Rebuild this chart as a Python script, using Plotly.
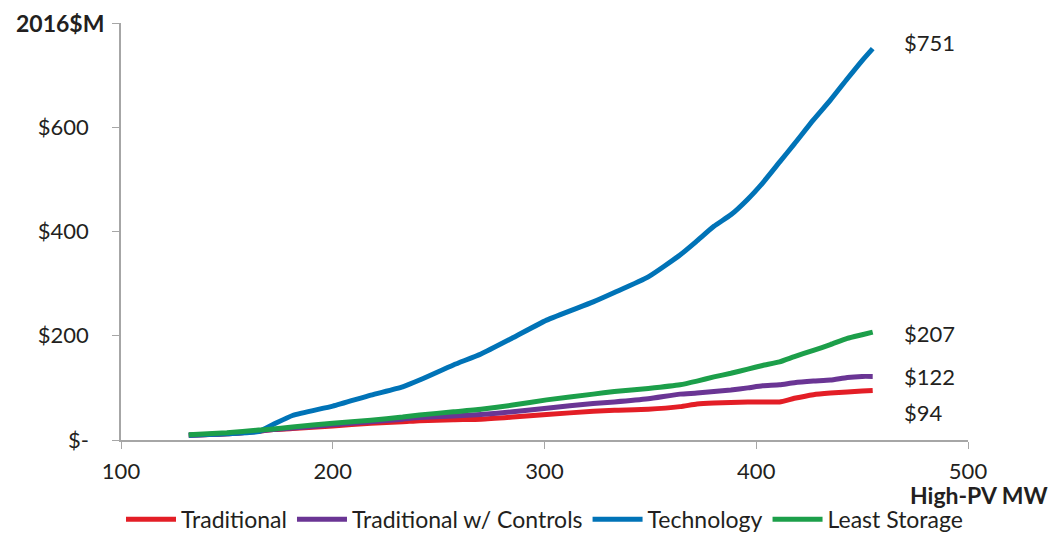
import plotly.graph_objects as go

mw = [132, 150, 165, 172, 181, 200, 218, 233, 241, 257, 270, 285, 301, 323, 333,
      349, 364, 372, 380, 388, 396, 403, 411, 418, 427, 435, 443, 450, 455]

traditional = [9, 12, 17, 20, 22, 27, 32, 35, 37, 39, 40, 44, 49, 55, 57,
               59, 64, 69, 71, 72, 73, 73, 73, 80, 87, 90, 92, 94, 95]
controls = [9, 12, 17, 20, 23, 29, 35, 40, 43, 46, 49, 54, 61, 70, 73,
            79, 88, 90, 93, 96, 100, 104, 106, 110, 113, 115, 120, 122, 122]
technology = [9, 12, 16, 30, 47, 65, 86, 102, 115, 144, 165, 196, 230, 265, 283,
              313, 355, 382, 410, 432, 462, 493, 533, 568, 614, 652, 693, 728, 751]
least_storage = [10, 14, 19, 21, 25, 32, 38, 44, 48, 54, 59, 67, 77, 88, 93,
                 99, 106, 113, 121, 128, 136, 143, 150, 160, 172, 183, 195, 202, 207]

series = [
    ("Traditional", traditional, "#e31e26"),
    ("Traditional w/ Controls", controls, "#6a3594"),
    ("Technology", technology, "#0073b7"),
    ("Least Storage", least_storage, "#1c9f4a"),
]

end_labels = ["$751", "$207", "$122", "$94"]
end_label_y = [763, 205, 121, 52]

y_ticks = [0, 200, 400, 600, 800]
y_text = ["$-", "$200", "$400", "$600", ""]
x_ticks = [100, 200, 300, 400, 500]

font = "Lato"
grey = "#a6a6a6"

fig = go.Figure()
for name, vals, color in series:
    fig.add_trace(go.Scatter(
        x=mw, y=vals, name=name, mode="lines",
        line=dict(color=color, width=5, shape="spline", smoothing=0.5),
    ))

for txt, yv in zip(end_labels, end_label_y):
    fig.add_annotation(x=469, y=yv, text=txt, showarrow=False, xanchor="left",
                       yanchor="middle", font=dict(size=22, color="#231f20"))

fig.add_annotation(xref="paper", yref="paper", x=-0.018, y=1.0, text="<b>2016$M</b>",
                   showarrow=False, xanchor="right", yanchor="middle",
                   font=dict(size=23, color="#231f20"))
fig.add_annotation(xref="paper", yref="paper", x=1.097, y=-0.132, text="<b>High-PV MW</b>",
                   showarrow=False, xanchor="right", yanchor="middle",
                   font=dict(size=23, color="#231f20"))

fig.update_xaxes(range=[100, 500], tickvals=x_ticks, ticks="outside", ticklen=7,
                 tickcolor=grey, showline=True, linecolor=grey, linewidth=1.5,
                 showgrid=False, zeroline=False, tickfont=dict(size=22),
                 ticklabelstandoff=4, automargin=False)
fig.update_yaxes(range=[0, 800], tickvals=y_ticks, ticktext=y_text, ticks="outside",
                 ticklen=7, tickcolor=grey, showline=True, linecolor=grey, linewidth=1.5,
                 showgrid=False, zeroline=False, tickfont=dict(size=22),
                 ticklabelstandoff=19, automargin=False)

# page body adds 8px, so the figure is sized to the visible window
fig.update_layout(
    width=1051, height=526,
    margin=dict(l=113, r=91, t=15, b=94, autoexpand=False),
    plot_bgcolor="white", paper_bgcolor="white",
    font=dict(family=font, size=22, color="#231f20"),
    legend=dict(orientation="h", x=0.5, xanchor="center",
                y=-0.19, yanchor="middle", font=dict(size=23),
                tracegroupgap=0, itemwidth=50),
    showlegend=True,
)

fig.write_html("out.html")
